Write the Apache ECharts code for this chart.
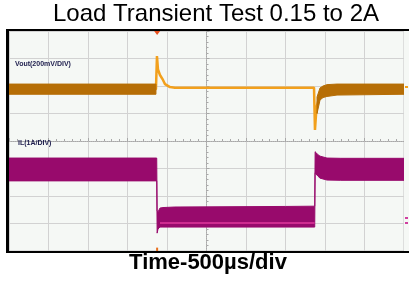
<!DOCTYPE html>
<html>
<head>
<meta charset="utf-8">
<script src="https://cdn.jsdelivr.net/npm/echarts@6/dist/echarts.min.js"></script>
<style>
  html, body { margin: 0; padding: 0; background: #fff; }
  #chart { width: 409px; height: 284px; }
</style>
</head>
<body>
<div id="chart"></div>
<script>
  // time in µs (500 µs/div), values in screen divisions
  const axisTime = [-2500, 2500]
  const axisDiv = [-4, 4]

  // Vout: thin trace through the transients
  const voutTime  = [-2500, -640, -627, -614, -589, -551, -525, -462, -400, 1361, 1373, 1386, 1399, 1437, 1475, 1525, 2500]
  const voutLevel = [1.88, 1.88, 3.09, 2.6, 2.4, 2.22, 2.07, 1.96, 1.94, 1.94, 0.40, 0.95, 1.3, 1.7, 1.8, 1.85, 1.88]

  // Vout ripple envelopes
  const voutPreTime  = [-2500, -640]
  const voutPreUpper = [2.07, 2.07]
  const voutPreLower = [1.70, 1.70]
  const voutPostTime  = [1399, 1437, 1475, 1525, 1652, 2500]
  const voutPostUpper = [1.6, 1.93, 2.0, 2.05, 2.07, 2.07]
  const voutPostLower = [1.0, 1.49, 1.58, 1.62, 1.67, 1.70]

  // IL ripple envelope
  const ilTime  = [-2500, -630, -625, -614, -589, -551, -400, 1000, 1370, 1375, 1386, 1411, 1437, 1525, 1700, 2500]
  const ilUpper = [-0.62, -0.62, -2.55, -2.58, -2.44, -2.42, -2.40, -2.38, -2.37, -0.39, -0.42, -0.5, -0.55, -0.62, -0.63, -0.63]
  const ilLower = [-1.45, -1.45, -3.35, -3.2, -3.13, -3.13, -3.13, -3.13, -3.13, -1.16, -1.2, -1.28, -1.35, -1.42, -1.43, -1.43]
  // bright minimum line in the low-current band
  const ilMinTime  = [-589, 1368]
  const ilMinLevel = [-2.98, -2.98]

  const triggerTime = -625

  const zip = (a, b) => a.map((t, i) => [t, b[i]])

  function bandSeries(times, upper, lower, color, z) {
    return {
      type: 'custom',
      clip: true,
      z: z,
      silent: true,
      data: [[0, 0]],
      renderItem: function (params, api) {
        const pts = []
        for (let i = 0; i < times.length; i++) pts.push(api.coord([times[i], upper[i]]))
        for (let j = times.length - 1; j >= 0; j--) pts.push(api.coord([times[j], lower[j]]))
        return {
          type: 'polygon',
          shape: { points: pts },
          style: { fill: color, stroke: color, lineWidth: 1 }
        }
      }
    }
  }

  const myChart = echarts.init(document.getElementById('chart'))
  const option = {
    animation: false,
    grid: {
      left: 9,
      right: 5,
      top: 31,
      bottom: 33,
      show: true,
      backgroundColor: '#f5f8f5',
      borderColor: '#c4c4c4',
      borderWidth: 1
    },
    xAxis: {
      type: 'value',
      min: axisTime[0],
      max: axisTime[1],
      interval: 500,
      axisLine: { onZero: true, lineStyle: { color: '#a8a8a8', type: 'dotted' } },
      axisTick: { show: true, inside: true, length: 3, lineStyle: { color: '#a8a8a8' } },
      minorTick: { show: true, splitNumber: 5, length: 2, lineStyle: { color: '#a8a8a8' } },
      axisLabel: { show: false },
      splitLine: { show: true, lineStyle: { color: '#d2d2d2', width: 1 } }
    },
    yAxis: {
      type: 'value',
      min: axisDiv[0],
      max: axisDiv[1],
      interval: 1,
      axisLine: { onZero: true, lineStyle: { color: '#a8a8a8', type: 'dotted' } },
      axisTick: { show: true, inside: true, length: 3, lineStyle: { color: '#a8a8a8' } },
      minorTick: { show: true, splitNumber: 5, length: 2, lineStyle: { color: '#a8a8a8' } },
      axisLabel: { show: false },
      splitLine: { show: true, lineStyle: { color: '#d2d2d2', width: 1 } }
    },
    series: [
      {
        name: 'Vout',
        type: 'line',
        data: zip(voutTime, voutLevel),
        showSymbol: false,
        z: 3,
        lineStyle: { color: '#f2a01c', width: 2.5 },
        markPoint: {
          silent: true,
          label: { show: false },
          data: [
            { coord: [triggerTime, 3.93], symbol: 'triangle', symbolRotate: 180, symbolSize: [6, 4], itemStyle: { color: '#e8501e' } },
            { coord: [triggerTime, -3.95], symbol: 'rect', symbolSize: [2, 4], itemStyle: { color: '#e8701e' } }
          ]
        }
      },
      bandSeries(voutPreTime, voutPreUpper, voutPreLower, '#b66e06', 4),
      bandSeries(voutPostTime, voutPostUpper, voutPostLower, '#b66e06', 4),
      bandSeries(ilTime, ilUpper, ilLower, '#980a6c', 4),
      {
        name: 'IL min',
        type: 'line',
        data: zip(ilMinTime, ilMinLevel),
        showSymbol: false,
        z: 5,
        lineStyle: { color: '#e0389c', width: 1.5 }
      }
    ],
    graphic: [
      { type: 'rect', z: 1, silent: true, shape: { x: 404, y: 31, width: 5, height: 220 }, style: { fill: '#f5f8f5' } },
      { type: 'rect', z: 100, silent: true, shape: { x: 6, y: 29, width: 403, height: 2 }, style: { fill: '#000' } },
      { type: 'rect', z: 100, silent: true, shape: { x: 6, y: 29, width: 3, height: 224 }, style: { fill: '#000' } },
      { type: 'rect', z: 100, silent: true, shape: { x: 6, y: 251, width: 403, height: 2 }, style: { fill: '#000' } },
      { type: 'rect', z: 100, silent: true, shape: { x: 405, y: 86, width: 3, height: 2 }, style: { fill: '#f2a01c' } },
      { type: 'rect', z: 100, silent: true, shape: { x: 405, y: 217, width: 3, height: 2 }, style: { fill: '#d040a0' } },
      { type: 'rect', z: 100, silent: true, shape: { x: 405, y: 222, width: 3, height: 2 }, style: { fill: '#d040a0' } },
      {
        type: 'text', z: 100, x: 216, y: 2,
        style: { text: 'Load Transient Test 0.15 to 2A', align: 'center', textAlign: 'center', verticalAlign: 'top', textVerticalAlign: 'top',
          fontSize: 24, fontFamily: 'Liberation Sans', fill: '#000' }
      },
      {
        type: 'text', z: 100, x: 208, y: 252,
        style: { text: 'Time-500µs/div', align: 'center', textAlign: 'center', verticalAlign: 'top', textVerticalAlign: 'top',
          fontSize: 22, fontWeight: 'bold', fontFamily: 'Liberation Sans', fill: '#000' }
      },
      {
        type: 'text', z: 100, x: 15, y: 61,
        style: { text: 'Vout(200mV/DIV)', fontSize: 7, fontWeight: 'bold', fontFamily: 'Liberation Sans', fill: '#1c1c4c' }
      },
      {
        type: 'text', z: 100, x: 18, y: 140,
        style: { text: 'IL(1A/DIV)', fontSize: 7, fontWeight: 'bold', fontFamily: 'Liberation Sans', fill: '#1c1c4c' }
      }
    ]
  }
  myChart.setOption(option)
</script>
</body>
</html>
